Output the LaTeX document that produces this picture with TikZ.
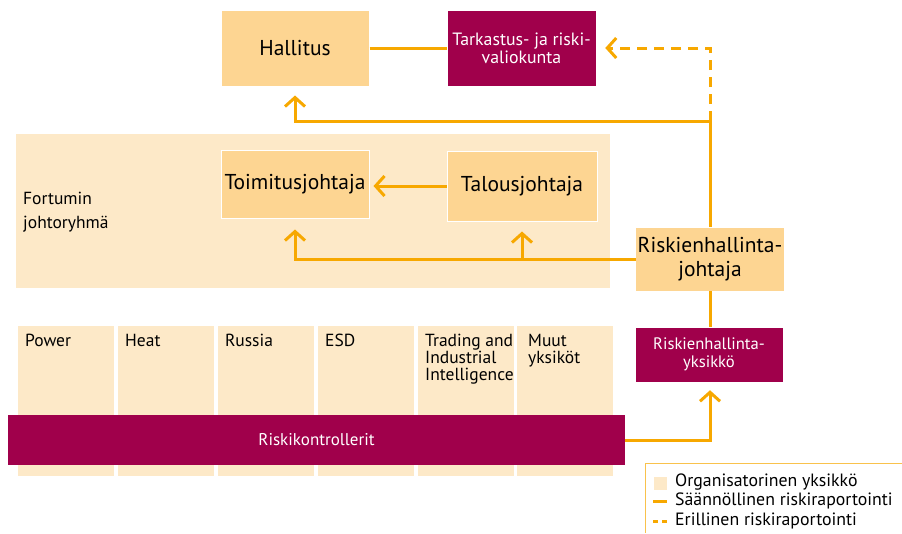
\documentclass[tikz,border=0pt]{standalone}
\usepackage{fontspec}
\setmainfont{PT Sans}
\usetikzlibrary{arrows.meta}
\definecolor{org}{RGB}{247,168,0}
\definecolor{light}{RGB}{253,233,200}
\definecolor{med}{RGB}{253,213,146}
\definecolor{mag}{RGB}{160,0,75}
\tikzset{
  medbox/.style={fill=med,draw=white,line width=1pt,minimum width=148pt,minimum height=#1,inner sep=0pt,align=center,font=\fontsize{21.5}{24}\selectfont},
  magbox/.style={fill=mag,draw=white,line width=0.5pt,text=white,inner sep=0pt,align=center,font=\fontsize{17}{18}\selectfont},
  unit/.style={fill=light,draw=none,minimum width=96pt,minimum height=150pt,inner sep=0pt},
  utext/.style={anchor=north west,inner sep=0pt,align=left,font=\fontsize{17.5}{17}\selectfont},
  conn/.style={draw=org,line width=3pt},
  arr/.style={conn,-{Straight Barb[length=9pt,width=20pt,line width=3pt]}},
}
\begin{document}
\begin{tikzpicture}[x=1pt,y=-1pt]
\useasboundingbox (0,0) rectangle (902,533);
% panel
\node[fill=light,minimum width=594pt,minimum height=154pt,inner sep=0pt] (panel) at (313,211) {};
\node[anchor=west,align=left,inner sep=0pt,font=\fontsize{17.5}{24}\selectfont] (ftext) at (23,212) {Fortumin\\johtoryhmä};
% top boxes
\node[medbox=76pt] (hall) at (295,48) {Hallitus};
\node[magbox,minimum width=149pt,minimum height=76pt,font=\fontsize{17.8}{18}\selectfont] (tark) at (521.5,48) {Tarkastus- ja riski-\\valiokunta};
\node[medbox=68pt] (toim) at (295,184) {Toimitusjohtaja};
\node[medbox=70pt,minimum width=150pt] (talo) at (522,186) {Talousjohtaja};
\node[medbox=63pt,fill=med,draw=none] (rj) at (710,259) {Riskienhallinta-\\johtaja};
\node[magbox,minimum width=148pt,minimum height=55pt,font=\fontsize{16.6}{18}\selectfont] (ry) at (709,354.5) {Riskienhallinta-\\yksikkö};
% units
\node[unit] (u1) at (66,401) {};
\node[unit] (u2) at (166,401) {};
\node[unit] (u3) at (266,401) {};
\node[unit] (u4) at (366,401) {};
\node[unit] (u5) at (466,401) {};
\node[unit] (u6) at (565,401) {};
\node[utext] (t1) at (25,334) {Power};
\node[utext] (t2) at (125,334) {Heat};
\node[utext] (t3) at (225,334) {Russia};
\node[utext] (t4) at (325,334) {ESD};
\node[utext] (t5) at (425,334) {Trading and\\Industrial\\Intelligence};
\node[utext] (t6) at (528,334) {Muut\\yksiköt};
\node[magbox,minimum width=617pt,minimum height=50pt,draw=none] (rk) at (316.5,440) {Riskikontrollerit};
% connectors
\coordinate (j) at (710,121);
\draw[conn] (hall.east) -- (tark.west);
\draw[conn] (rj.north) -- (j);
\draw[arr,shorten >=9pt] (j) -| (hall.south);
\draw[arr,dash pattern=on 10pt off 7pt,shorten >=9pt] (j) |- (tark.east);
\draw[arr,shorten >=4pt] (talo.west) -- (talo.west -| toim.east);
\draw[arr,shorten >=11pt] (rj.west) -| (toim.south);
\draw[arr,shorten >=10pt] (talo.south |- rj.west) -- (talo.south);
\draw[conn] (rj.south) -- (ry.north -| rj.south);
\draw[arr,shorten >=8pt] (rk.east) -| (ry.south -| rj.south);
% legend
\draw[draw=org!70,line width=0.8pt] (645,533) -- (645,463) -- (902,463);
\node[fill=light,minimum size=13pt,inner sep=0pt] (lsq) at (660,483) {};
\coordinate (l1a) at (653,501);
\coordinate (l1b) at (667,501);
\draw[conn] (l1a) -- (l1b);
\coordinate (l2a) at (653,521);
\coordinate (l2b) at (667,521);
\draw[conn,dash pattern=on 5pt off 4pt] (l2a) -- (l2b);
\node[anchor=west,inner sep=0pt,font=\fontsize{17.8}{20}\selectfont] (lt1) at (675,482) {Organisatorinen yksikkö};
\node[anchor=west,inner sep=0pt,font=\fontsize{17.8}{20}\selectfont] (lt2) at (675,501) {Säännöllinen riskiraportointi};
\node[anchor=west,inner sep=0pt,font=\fontsize{17.8}{20}\selectfont] (lt3) at (675,521) {Erillinen riskiraportointi};
\end{tikzpicture}
\end{document}
